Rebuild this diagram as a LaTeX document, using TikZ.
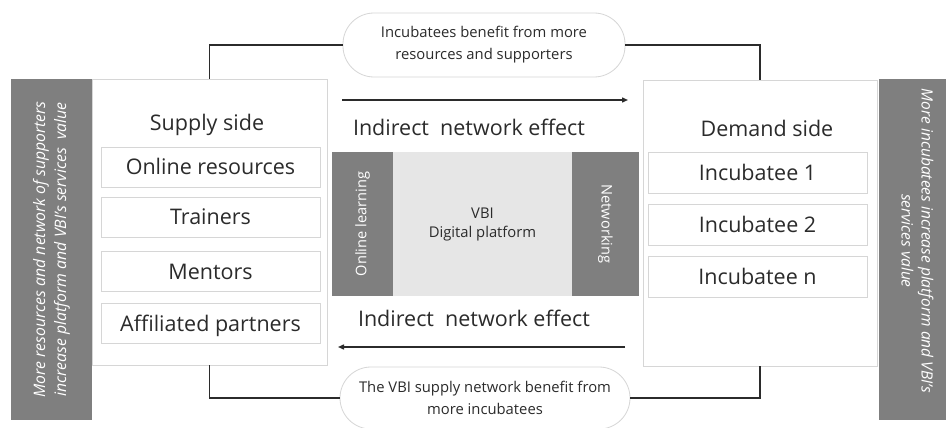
\documentclass[tikz,border=0pt]{standalone}
\usepackage{fontspec}
\setmainfont{Open Sans}
\usetikzlibrary{arrows.meta}
\definecolor{bargrey}{HTML}{7F7F7F}
\definecolor{platgrey}{HTML}{E6E6E6}
\definecolor{edgegrey}{HTML}{D6D6D6}
\definecolor{ink}{HTML}{2B2B2B}
\tikzset{
  sidebox/.style={draw=edgegrey, fill=white, line width=0.8pt, inner sep=0pt},
  itembox/.style={draw=edgegrey, fill=white, line width=0.8pt, minimum width=219pt,
    minimum height=40pt, inner sep=0pt, text=ink, text height=15.4pt, text depth=0pt,
    font=\fontsize{21.5}{24}\selectfont},
  heading/.style={text=ink, font=\fontsize{21.5}{24}\selectfont, inner sep=0pt, anchor=base},
  effect/.style={text=ink, font=\fontsize{21.5}{24}\selectfont, inner sep=0pt},
  sidebar/.style={fill=bargrey, inner sep=0pt},
  sidetext/.style={text=white, inner sep=0pt, align=center,
    font=\fontsize{15.8}{21}\selectfont\itshape},
  platbar/.style={fill=bargrey, text=white, inner sep=0pt,
    font=\fontsize{14.6}{16}\selectfont},
  bubble/.style={draw=edgegrey, fill=white, line width=0.8pt, rounded corners=31pt,
    align=center, text=ink, inner sep=0pt, font=\fontsize{14.8}{22}\selectfont},
  link/.style={draw=ink, line width=1.3pt},
  flow/.style={draw=ink, line width=1.4pt, -{Triangle[length=6pt,width=5pt]}}
}
\begin{document}
\begin{tikzpicture}[x=1pt,y=-1pt]
\useasboundingbox[fill=white] (0,0) rectangle (946,428);

% supply and demand panels
\node[sidebox, minimum width=235pt, minimum height=286pt] (supply) at (209.5,222) {};
\node[sidebox, minimum width=234pt, minimum height=286pt] (demand) at (760,223) {};

% side bars with the value statements
\node[sidebar, minimum width=81pt, minimum height=341pt] (leftbar) at (51.5,249.5) {};
\node[sidetext, rotate=90] (lefttext) at (leftbar.center)
  {More resources and network of supporters\\increase platform and VBI's services\ \ value};
\node[sidebar, minimum width=67pt, minimum height=341pt] (rightbar) at (912.5,249.5) {};
\node[sidetext, rotate=-90, font=\fontsize{15.5}{20}\selectfont\itshape] (righttext) at (917.5,241)
  {More incubatees increase platform and VBI's\\services value};

% supply side
\node[heading] (supplytitle) at (207,130) {Supply side};
\node[itembox] (s1) at (210.5,167) {Online resources};
\node[itembox] (s2) at (210.5,217) {Trainers};
\node[itembox] (s3) at (210.5,271.5) {Mentors};
\node[itembox] (s4) at (210.5,323.5) {Affiliated partners};

% demand side
\node[heading] (demandtitle) at (767,136) {Demand side};
\node[itembox, minimum height=41pt] (d1) at (757.5,172.5) {Incubatee 1};
\node[itembox, minimum height=41pt] (d2) at (757.5,225) {Incubatee 2};
\node[itembox, minimum height=41pt] (d3) at (757.5,276.5) {Incubatee n};

% digital platform
\node[fill=platgrey, minimum width=179pt, minimum height=144pt, inner sep=0pt, align=center,
  text=ink, font=\fontsize{14.8}{19}\selectfont] (platform) at (482.5,224) {VBI\\Digital platform};
\node[platbar, rotate=90, minimum width=144pt, minimum height=61pt] (learning) at (362.5,224) {Online learning};
\node[platbar, rotate=-90, minimum width=144pt, minimum height=67pt] (networking) at (605.5,224) {Networking};

% indirect network effects
\coordinate (fwdA) at (342,100);
\coordinate (fwdB) at (628,100);
\coordinate (bwdA) at (625,347);
\coordinate (bwdB) at (338,347);
\draw[flow] (fwdA) -- (fwdB);
\draw[flow] (bwdA) -- (bwdB);
\node[effect] (effectTop) at (469,127) {Indirect\ \ network effect};
\node[effect] (effectBot) at (474,318) {Indirect\ \ network effect};

% feedback bubbles
\node[bubble, minimum width=282pt, minimum height=64pt] (topbubble) at (484,45)
  {Incubatees benefit from more\\resources and supporters};
\node[bubble, minimum width=290pt, minimum height=62pt] (botbubble) at (485,398)
  {The VBI supply network benefit from\\more incubatees};

\draw[link] (supply.north) |- (topbubble.west);
\draw[link] (demand.north) |- (topbubble.east);
\draw[link] (supply.south) |- (botbubble.west);
\draw[link] (demand.south) |- (botbubble.east);
\end{tikzpicture}
\end{document}
